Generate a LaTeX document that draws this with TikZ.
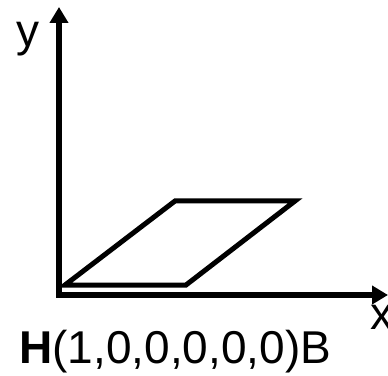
\documentclass[tikz,border=0pt]{standalone}
\usepackage{fontspec}
\setmainfont{Liberation Sans}
\usetikzlibrary{arrows.meta}
\begin{document}
\begin{tikzpicture}[x=1pt,y=1pt,
  axis/.style={line width=5.5pt,line join=miter,{Triangle[length=16pt,width=18pt]}-{Triangle[length=16pt,width=18pt]}},
  quad/.style={line width=5pt,line join=miter},
  lbl/.style={inner sep=0pt,font=\fontsize{46}{52}\selectfont}]
\useasboundingbox (0,0) rectangle (388,375);
\coordinate (o) at (59,80);
\coordinate (ytip) at (59,368);
\coordinate (xtip) at (388,80);
\draw[axis] (ytip) -- (o) -- (xtip);
\coordinate (p1) at (65,90);
\coordinate (p2) at (186,90);
\coordinate (p3) at (295,174);
\coordinate (p4) at (175,174);
\draw[quad] (p1) -- (p2) -- (p3) -- (p4) -- cycle;
\node[lbl,anchor=base] (ylab) at (28,328) {y};
\node[lbl,anchor=base west] (xlab) at (370,46) {x};
\node[lbl,anchor=base west] (title) at (19,12) {\textbf{H}(1,0,0,0,0,0)B};
\end{tikzpicture}
\end{document}
